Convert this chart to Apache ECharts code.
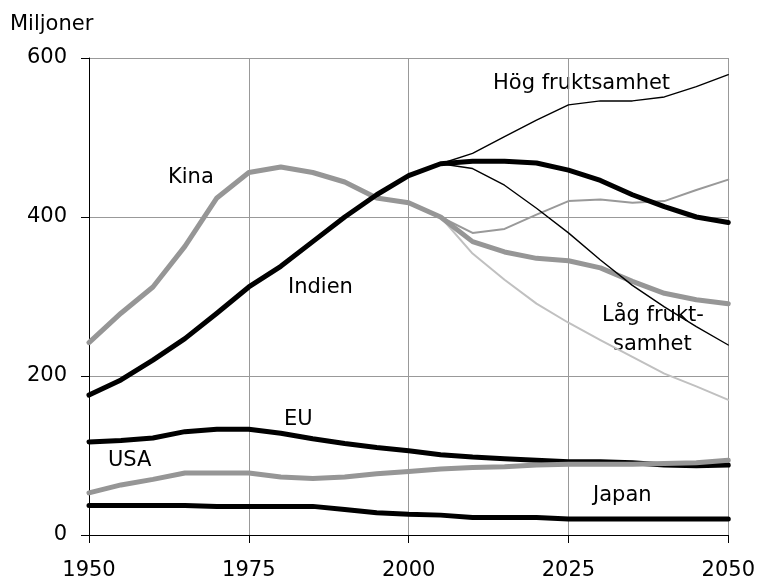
<!DOCTYPE html>
<html>
<head>
<meta charset="utf-8">
<script src="https://cdn.jsdelivr.net/npm/echarts@6/dist/echarts.min.js"></script>
<style>
html,body{margin:0;padding:0;background:#fff;}
#chart{width:758px;height:581px;}
</style>
</head>
<body>
<div id="chart"></div>
<script>
const years = [1950,1955,1960,1965,1970,1975,1980,1985,1990,1995,2000,2005,2010,2015,2020,2025,2030,2035,2040,2045,2050];
const projYears = [2005,2010,2015,2020,2025,2030,2035,2040,2045,2050];
const xTicks = [1950,1975,2000,2025,2050];
const yTicks = [0,200,400,600];

const kina = [242,279,312,363,424,456,463,456,444,424,418,400,369,356,348,345,336,319,304,296,291];
const kinaHog = [400,380,385,403,420,422,418,420,434,447];
const kinaLag = [400,354,321,291,267,245,224,203,187,170];
const indien = [176,195,220,247,279,312,338,369,400,428,452,467,470,470,468,459,446,428,413,400,393];
const indienHog = [467,480,501,522,541,546,546,551,564,579];
const indienLag = [467,461,440,411,380,346,314,287,262,239];
const eu = [117,119,122,130,133,133,128,121,115,110,106,101,98,96,94,92,92,91,88,87,88];
const usa = [53,63,70,78,78,78,73,71,73,77,80,83,85,86,88,89,89,89,90,91,94];
const japan = [37,37,37,37,36,36,36,36,32,28,26,25,22,22,22,20,20,20,20,20,20];

const FONT = 'DejaVu Sans';
const pair = (xs, ys) => xs.map((x, i) => [x, ys[i]]);
function line(name, xs, ys, color, width, z) {
  return {
    name: name, type: 'line', data: pair(xs, ys), showSymbol: false, symbol: 'none',
    lineStyle: {color: color, width: width, cap: 'round', join: 'round'},
    z: z, silent: true
  };
}
function label(text, x, y) {
  return {type: 'text', x: x, y: y, style: {text: text, fill: '#000', font: '21px "' + FONT + '"', verticalAlign: 'middle', align: 'left'}};
}

const chart = echarts.init(document.getElementById('chart'), null, {renderer: 'canvas'});
chart.setOption({
  animation: false,
  backgroundColor: '#fff',
  grid: {left: 89, right: 28, top: 58, bottom: 46, containLabel: false},
  xAxis: {
    type: 'value', min: xTicks[0], max: xTicks[xTicks.length - 1], interval: 25,
    axisLine: {show: true, lineStyle: {color: '#000', width: 1}},
    axisTick: {show: true, inside: false, length: 8, lineStyle: {color: '#000'}},
    axisLabel: {color: '#000', fontFamily: FONT, fontSize: 21, margin: 25, formatter: v => String(v)},
    splitLine: {show: true, lineStyle: {color: '#999', width: 1}}
  },
  yAxis: {
    type: 'value', min: yTicks[0], max: yTicks[yTicks.length - 1], interval: 200,
    axisLine: {show: true, lineStyle: {color: '#000', width: 1}},
    axisTick: {show: true, inside: false, length: 8, lineStyle: {color: '#000'}},
    axisLabel: {color: '#000', fontFamily: FONT, fontSize: 21, margin: 22, formatter: v => String(v)},
    splitLine: {show: true, lineStyle: {color: '#999', width: 1}}
  },
  series: [
    line('Kina låg', projYears, kinaLag, '#c0c0c0', 2, 2),
    line('Kina hög', projYears, kinaHog, '#999999', 2, 2),
    line('Kina', years, kina, '#969696', 5, 3),
    line('Indien', years, indien, '#000000', 5, 4),
    line('Indien hög', projYears, indienHog, '#000000', 1.4, 5),
    line('Indien låg', projYears, indienLag, '#000000', 1.4, 5),
    line('Japan', years, japan, '#000000', 5, 3),
    line('EU', years, eu, '#000000', 5, 3),
    line('USA', years, usa, '#969696', 5, 4)
  ],
  graphic: [
    label('Miljoner', 10, 25),
    label('Kina', 168, 178),
    label('Indien', 288, 288),
    label('Hög fruktsamhet', 493, 84),
    label('Låg frukt-', 602, 316),
    label('samhet', 613, 345),
    label('EU', 284, 420),
    label('USA', 108, 461),
    label('Japan', 593, 496)
  ]
});
</script>
</body>
</html>
